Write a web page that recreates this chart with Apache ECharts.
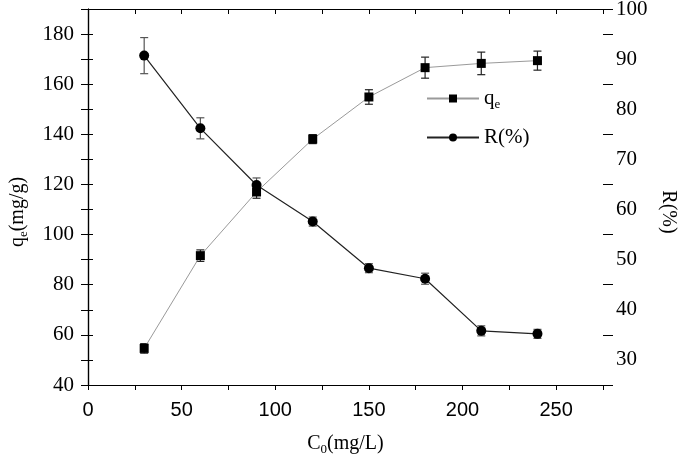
<!DOCTYPE html>
<html>
<head>
<meta charset="utf-8">
<script src="https://cdn.jsdelivr.net/npm/echarts@6/dist/echarts.min.js"></script>
<style>html,body{margin:0;padding:0;background:#fff;}#c{width:685px;height:455px;}</style>
</head>
<body>
<div id="c"></div>
<script>
const concentration = [30, 60, 90, 120, 150, 180, 210, 240];
const qeValues = [54.6, 91.6, 117.0, 138.1, 154.9, 166.6, 168.3, 169.4];
const qeErrors = [1.9, 2.3, 2.5, 1.8, 2.9, 4.2, 4.5, 3.8];
const removalValues = [90.7, 76.2, 64.9, 57.6, 48.3, 46.2, 35.8, 35.2];
const removalErrors = [3.6, 2.1, 1.4, 0.9, 0.9, 1.1, 1.0, 0.9];

const SERIF = '"Liberation Serif", "DejaVu Serif", serif';
const SANS = '"Liberation Sans", Arial, sans-serif';

const qeData = concentration.map((c, i) => [c, qeValues[i]]);
const rData = concentration.map((c, i) => [c, removalValues[i]]);
const qeErrData = concentration.map((c, i) => [c, qeValues[i], qeErrors[i]]);
const rErrData = concentration.map((c, i) => [c, removalValues[i], removalErrors[i]]);

function errorBar(color) {
  return function (params, api) {
    const x = api.value(0), y = api.value(1), e = api.value(2);
    const hi = api.coord([x, y + e]);
    const lo = api.coord([x, y - e]);
    const hw = 4;
    const style = { stroke: color, lineWidth: 1.2 };
    return {
      type: 'group',
      children: [
        { type: 'line', shape: { x1: hi[0], y1: hi[1], x2: lo[0], y2: lo[1] }, style },
        { type: 'line', shape: { x1: hi[0] - hw, y1: hi[1], x2: hi[0] + hw, y2: hi[1] }, style },
        { type: 'line', shape: { x1: lo[0] - hw, y1: lo[1], x2: lo[0] + hw, y2: lo[1] }, style }
      ]
    };
  };
}

const axisLine = { show: true, lineStyle: { color: '#000', width: 1.2 } };
const tickStyle = { color: '#000', width: 1 };

const chart = echarts.init(document.getElementById('c'), null, { renderer: 'canvas' });
chart.setOption({
  animation: false,
  backgroundColor: '#fff',
  grid: { left: 88, right: 82, top: 9, bottom: 70, containLabel: false, outerBoundsMode: 'none' },
  legend: {
    orient: 'vertical',
    left: 421,
    top: 83,
    itemWidth: 52,
    itemHeight: 10,
    itemGap: 16,
    textStyle: {
      fontFamily: SERIF, fontSize: 21, color: '#000',
      rich: {
        b: { fontFamily: SERIF, fontSize: 21, color: '#000' },
        s: { fontFamily: SERIF, fontSize: 13, color: '#000', verticalAlign: 'bottom', padding: [12, 0, 0, 0] }
      }
    },
    formatter: function (name) {
      return name === 'qe' ? '{b|q}{s|e}' : '{b|R(%)}';
    },
    data: ['qe', 'R(%)']
  },
  xAxis: [{
    type: 'value', min: 0, max: 275, interval: 25,
    name: '{b|C}{s|0}{b|(mg/L)}', nameLocation: 'middle', nameGap: 46,
    nameTextStyle: {
      rich: {
        b: { fontFamily: SERIF, fontSize: 20, color: '#000' },
        s: { fontFamily: SERIF, fontSize: 13, color: '#000', verticalAlign: 'bottom', padding: [12, 0, 0, 0] }
      }
    },
    axisLine, axisTick: { show: true, length: 5, lineStyle: tickStyle },
    axisLabel: {
      fontFamily: SANS, fontSize: 20, color: '#000', margin: 15,
      formatter: v => (v % 50 === 0 ? String(v) : '')
    },
    splitLine: { show: false }
  }, {
    type: 'value', min: 0, max: 275, interval: 25, position: 'top',
    axisLine, axisTick: { show: true, inside: true, length: 5, lineStyle: tickStyle },
    axisLabel: { show: false }, splitLine: { show: false }
  }],
  yAxis: [{
    type: 'value', min: 40, max: 190, interval: 10, position: 'left',
    name: '{b|q}{s|e}{b|(mg/g)}', nameLocation: 'middle', nameGap: 58, nameRotate: 90,
    nameTextStyle: {
      padding: [0, 0, 0, -30],
      rich: {
        b: { fontFamily: SERIF, fontSize: 20, color: '#000' },
        s: { fontFamily: SERIF, fontSize: 13, color: '#000', verticalAlign: 'bottom', padding: [12, 0, 0, 0] }
      }
    },
    axisLine, axisTick: { show: true, length: 7, lineStyle: tickStyle },
    axisLabel: {
      fontFamily: SERIF, fontSize: 21, color: '#000', margin: 14,
      formatter: v => (v % 20 === 0 && v <= 180 ? String(v) : '')
    },
    splitLine: { show: false }
  }, {
    type: 'value', min: 25, max: 100, interval: 5, position: 'right',
    name: 'R(%)', nameLocation: 'middle', nameGap: 52, nameRotate: -90,
    nameTextStyle: { fontFamily: SERIF, fontSize: 20, color: '#000', padding: [0, 0, 0, 30] },
    axisLine, axisTick: { show: true, length: 5, lineStyle: tickStyle },
    axisLabel: {
      fontFamily: SERIF, fontSize: 21, color: '#000', margin: 13,
      formatter: v => (v % 10 === 0 ? String(v) : '')
    },
    splitLine: { show: false }
  }, {
    type: 'value', min: 25, max: 100, interval: 10, position: 'right',
    axisLine: { show: false }, axisTick: { show: true, length: 10, lineStyle: tickStyle },
    axisLabel: { show: false }, splitLine: { show: false }
  }],
  series: [
    {
      type: 'custom', name: 'qeErr', xAxisIndex: 0, yAxisIndex: 0,
      renderItem: errorBar('#222'), data: qeErrData, encode: { x: 0, y: 1 }, z: 1, silent: true
    },
    {
      type: 'custom', name: 'rErr', xAxisIndex: 0, yAxisIndex: 1,
      renderItem: errorBar('#555'), data: rErrData, encode: { x: 0, y: 1 }, z: 1, silent: true
    },
    {
      type: 'line', name: 'qe', xAxisIndex: 0, yAxisIndex: 0, data: qeData,
      symbol: 'rect', symbolSize: 9,
      lineStyle: { color: '#9a9a9a', width: 1 },
      itemStyle: { color: '#000' }, z: 3
    },
    {
      type: 'line', name: 'R(%)', xAxisIndex: 0, yAxisIndex: 1, data: rData,
      symbol: 'circle', symbolSize: 10,
      lineStyle: { color: '#222', width: 1.2 },
      itemStyle: { color: '#000' }, z: 3
    }
  ]
});
</script>
</body>
</html>
